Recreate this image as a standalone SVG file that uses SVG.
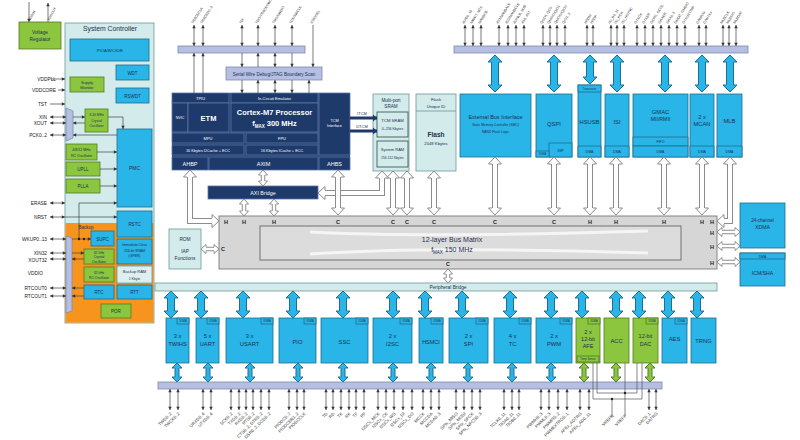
<svg xmlns="http://www.w3.org/2000/svg" width="800" height="440" viewBox="0 0 800 440">
<defs>
<style>
text{font-family:"Liberation Sans",Arial,sans-serif;fill:#1c2f50;text-anchor:middle}
.cy{fill:#29b5e8;stroke:#1f6f8f;stroke-width:0.8}
.gr{fill:#8cc63f;stroke:#4f7d22;stroke-width:0.8}
.lv{fill:#b4bfe2;stroke:#7f8ab0;stroke-width:0.8}
.lc{fill:#d3ebeb;stroke:#6b9898;stroke-width:0.8}
.nv{fill:#1d3a6b;stroke:#5a77a6;stroke-width:0.8}
.wt{fill:#fff}
.b{font-weight:bold}
.pl{font-size:3.5px;fill:#333;text-anchor:start}
.pb{font-size:4.3px;fill:#333;text-anchor:end}
.ll{font-size:4.8px;fill:#222;text-anchor:end}
.hc{font-size:5.5px;font-weight:bold;fill:#222}
.pin{fill:none;stroke:#555;stroke-width:0.8;marker-start:url(#pa);marker-end:url(#pa)}
.pe{fill:none;stroke:#444;stroke-width:0.7;marker-end:url(#pa)}
.ln{fill:none;stroke:#555;stroke-width:0.7}
.ho{fill:none;stroke:#8c8c8c;stroke-width:6;marker-start:url(#mh);marker-end:url(#mh)}
.hi{fill:none;stroke:#fff;stroke-width:4}
.so{fill:none;stroke:#8c8c8c;stroke-width:4.5;marker-start:url(#sh);marker-end:url(#sh)}
.si{fill:none;stroke:#fff;stroke-width:2.5}
.co{fill:none;stroke:#1f6f8f;stroke-width:8;marker-start:url(#ch);marker-end:url(#ch)}
.ci{fill:none;stroke:#29b5e8;stroke-width:6}
.cso{fill:none;stroke:#1f6f8f;stroke-width:5;marker-start:url(#csh);marker-end:url(#csh)}
.csi{fill:none;stroke:#29b5e8;stroke-width:3}
.gso{fill:none;stroke:#4f7d22;stroke-width:5;marker-start:url(#gsh);marker-end:url(#gsh)}
.gsi{fill:none;stroke:#8cc63f;stroke-width:3}
.nva{fill:none;stroke:#1d3a6b;stroke-width:3;marker-end:url(#nh)}
.tag{font-size:2.6px}
</style>
<marker id="pa" markerUnits="userSpaceOnUse" orient="auto-start-reverse" markerWidth="20" markerHeight="20" viewBox="-10 -10 20 20" refX="0" refY="0"><path d="M-3.2,-1.7 L0,0 L-3.2,1.7Z" fill="#333"/></marker>
<marker id="mh" markerUnits="userSpaceOnUse" orient="auto-start-reverse" markerWidth="20" markerHeight="20" viewBox="-10 -10 20 20" refX="0" refY="0"><path d="M0,-3 L0,-6.5 L7,0 L0,6.5 L0,3" fill="#fff" stroke="#8c8c8c" stroke-width="1"/></marker>
<marker id="sh" markerUnits="userSpaceOnUse" orient="auto-start-reverse" markerWidth="20" markerHeight="20" viewBox="-10 -10 20 20" refX="0" refY="0"><path d="M0,-2.25 L0,-4.5 L5,0 L0,4.5 L0,2.25" fill="#fff" stroke="#8c8c8c" stroke-width="1"/></marker>
<marker id="ch" markerUnits="userSpaceOnUse" orient="auto-start-reverse" markerWidth="20" markerHeight="20" viewBox="-10 -10 20 20" refX="0" refY="0"><path d="M0,-4 L0,-7 L7,0 L0,7 L0,4" fill="#29b5e8" stroke="#1f6f8f" stroke-width="1"/></marker>
<marker id="csh" markerUnits="userSpaceOnUse" orient="auto-start-reverse" markerWidth="20" markerHeight="20" viewBox="-10 -10 20 20" refX="0" refY="0"><path d="M0,-2.5 L0,-5 L5,0 L0,5 L0,2.5" fill="#29b5e8" stroke="#1f6f8f" stroke-width="1"/></marker>
<marker id="gsh" markerUnits="userSpaceOnUse" orient="auto-start-reverse" markerWidth="20" markerHeight="20" viewBox="-10 -10 20 20" refX="0" refY="0"><path d="M0,-2.5 L0,-5 L5,0 L0,5 L0,2.5" fill="#8cc63f" stroke="#4f7d22" stroke-width="1"/></marker>
<marker id="nh" markerUnits="userSpaceOnUse" orient="auto" markerWidth="20" markerHeight="20" viewBox="-10 -10 20 20" refX="0" refY="0"><path d="M-4,-3.5 L0,0 L-4,3.5Z" fill="#1d3a6b"/></marker>
</defs>
<rect width="800" height="440" fill="#fff"/>

<g id="top-labels">
<text class="pl" transform="translate(30,21) rotate(-60)">VDDIN</text>
<text class="pl" transform="translate(49,21) rotate(-60)">VDDOUT</text>
<text class="pl" transform="translate(193,24) rotate(-58)">TRACECLK</text>
<text class="pl" transform="translate(202,24) rotate(-58)">TRACED0..3</text>
<text class="pl" transform="translate(241,24) rotate(-58)">TDI</text>
<text class="pl" transform="translate(257,24) rotate(-58)">TDO/TRACESWO</text>
<text class="pl" transform="translate(274,24) rotate(-58)">TMS/SWDIO</text>
<text class="pl" transform="translate(291,24) rotate(-58)">TCK/SWCLK</text>
<text class="pl" transform="translate(312,24) rotate(-58)">JTAGSEL</text>
<text class="pl" transform="translate(464,24) rotate(-58)">A0/D0..15</text>
<text class="pl" transform="translate(472,24) rotate(-58)">NWAIT, NCS</text>
<text class="pl" transform="translate(480,24) rotate(-58)">NANDOE</text>
<text class="pl" transform="translate(498,24) rotate(-58)">A21/NANDALE</text>
<text class="pl" transform="translate(507,24) rotate(-58)">A22/NANDCLE</text>
<text class="pl" transform="translate(515,24) rotate(-58)">A0/NLB, NUB</text>
<text class="pl" transform="translate(523,24) rotate(-58)">A16..A17</text>
<text class="pl" transform="translate(542,24) rotate(-58)">QSCK, QCS</text>
<text class="pl" transform="translate(549,24) rotate(-58)">QMISO/QIO1</text>
<text class="pl" transform="translate(556,24) rotate(-58)">QMOSI/QIO0</text>
<text class="pl" transform="translate(564,24) rotate(-58)">QIO2..3</text>
<text class="pl" transform="translate(586,24) rotate(-58)">HSDM</text>
<text class="pl" transform="translate(592,24) rotate(-58)">HSDP</text>
<text class="pl" transform="translate(610,24) rotate(-58)">ISI_D0..11</text>
<text class="pl" transform="translate(616,24) rotate(-58)">ISI_PCK</text>
<text class="pl" transform="translate(623,24) rotate(-58)">ISI_HSYNC</text>
<text class="pl" transform="translate(636,24) rotate(-58)">GTXCK</text>
<text class="pl" transform="translate(644,24) rotate(-58)">GTXER</text>
<text class="pl" transform="translate(652,24) rotate(-58)">GCRS, GCOL</text>
<text class="pl" transform="translate(660,24) rotate(-58)">GRXER</text>
<text class="pl" transform="translate(668,24) rotate(-58)">GRX0..3</text>
<text class="pl" transform="translate(676,24) rotate(-58)">GMDC, GMDIO</text>
<text class="pl" transform="translate(684,24) rotate(-58)">GTSUCOMP</text>
<text class="pl" transform="translate(698,24) rotate(-58)">CANRXx</text>
<text class="pl" transform="translate(705,24) rotate(-58)">CANTXx</text>
<text class="pl" transform="translate(722,24) rotate(-58)">MLBCLK</text>
<text class="pl" transform="translate(728,24) rotate(-58)">MLBSIG</text>
<text class="pl" transform="translate(735,24) rotate(-58)">MLBDAT</text>
</g>

<g id="left-labels">
<text class="ll" x="56" y="81">VDDPLL</text>
<text class="ll" x="56" y="92">VDDCORE</text>
<text class="ll" x="47" y="106">TST</text>
<text class="ll" x="47" y="119">XIN</text>
<text class="ll" x="47" y="125">XOUT</text>
<text class="ll" x="47" y="137">PCK0..2</text>
<text class="ll" x="47" y="205">ERASE</text>
<text class="ll" x="47" y="219">NRST</text>
<text class="ll" x="47" y="241">WKUP0..13</text>
<text class="ll" x="47" y="255">XIN32</text>
<text class="ll" x="47" y="262">XOUT32</text>
<text class="ll" x="43" y="275">VDDIO</text>
<text class="ll" x="47" y="290">RTCOUT0</text>
<text class="ll" x="47" y="298">RTCOUT1</text>
</g>

<g id="bottom-labels">
<text class="pb" transform="translate(172,414) rotate(-45)">TWD0..2</text>
<text class="pb" transform="translate(180,414) rotate(-45)">TWCK0..2</text>
<text class="pb" transform="translate(205,414) rotate(-45)">URXD0..4</text>
<text class="pb" transform="translate(213,414) rotate(-45)">UTXD0..4</text>
<text class="pb" transform="translate(233,414) rotate(-45)">SCK0..2</text>
<text class="pb" transform="translate(241,414) rotate(-45)">TXD0..2</text>
<text class="pb" transform="translate(248,414) rotate(-45)">RXD0..2</text>
<text class="pb" transform="translate(255,414) rotate(-45)">RTS0..2</text>
<text class="pb" transform="translate(263,414) rotate(-45)">CTS0..2, DTR0..2</text>
<text class="pb" transform="translate(271,414) rotate(-45)">DSR0..2, DCD0..2</text>
<text class="pb" transform="translate(291,414) rotate(-45)">PIODC0..7</text>
<text class="pb" transform="translate(299,414) rotate(-45)">PIODCEN1..2</text>
<text class="pb" transform="translate(306,414) rotate(-45)">PIODCCLK</text>
<text class="pb" transform="translate(328,414) rotate(-45)">TD</text>
<text class="pb" transform="translate(335,414) rotate(-45)">RD</text>
<text class="pb" transform="translate(343,414) rotate(-45)">TK</text>
<text class="pb" transform="translate(351,414) rotate(-45)">RK</text>
<text class="pb" transform="translate(358,414) rotate(-45)">TF</text>
<text class="pb" transform="translate(366,414) rotate(-45)">RF</text>
<text class="pb" transform="translate(380,414) rotate(-45)">I2SCx_MCK</text>
<text class="pb" transform="translate(388,414) rotate(-45)">I2SCx_CK</text>
<text class="pb" transform="translate(396,414) rotate(-45)">I2SCx_WS</text>
<text class="pb" transform="translate(405,414) rotate(-45)">I2SCx_DI</text>
<text class="pb" transform="translate(414,414) rotate(-45)">I2SCx_DO</text>
<text class="pb" transform="translate(425,414) rotate(-45)">MCCK</text>
<text class="pb" transform="translate(433,414) rotate(-45)">MCCDA</text>
<text class="pb" transform="translate(441,414) rotate(-45)">MCDA0..3</text>
<text class="pb" transform="translate(458,414) rotate(-45)">SPIx_MISO</text>
<text class="pb" transform="translate(466,414) rotate(-45)">SPIx_MOSI</text>
<text class="pb" transform="translate(474,414) rotate(-45)">SPIx_SPCK</text>
<text class="pb" transform="translate(482,414) rotate(-45)">SPIx_NPCS0..3</text>
<text class="pb" transform="translate(506,414) rotate(-45)">TCLK0..11</text>
<text class="pb" transform="translate(514,414) rotate(-45)">TIOA0..11</text>
<text class="pb" transform="translate(521,414) rotate(-45)">TIOB0..11</text>
<text class="pb" transform="translate(543,414) rotate(-45)">PWMH0..3</text>
<text class="pb" transform="translate(551,414) rotate(-45)">PWML0..3</text>
<text class="pb" transform="translate(560,414) rotate(-45)">PWMFI0..2</text>
<text class="pb" transform="translate(569,414) rotate(-45)">PWMEXTRG0..1</text>
<text class="pb" transform="translate(582,414) rotate(-45)">AFEx_ADTRG</text>
<text class="pb" transform="translate(591,414) rotate(-45)">AFEx_AD0..11</text>
<text class="pb" transform="translate(614,416) rotate(-45)">VREFN</text>
<text class="pb" transform="translate(627,416) rotate(-45)">VREFP</text>
<text class="pb" transform="translate(651,414) rotate(-45)">DAC0..1</text>
<text class="pb" transform="translate(658,414) rotate(-45)">DATRG</text>
</g>

<g id="trace-bar"><rect class="lv" x="178" y="46" width="127" height="7"/></g>
<g id="top-bar"><rect class="lv" x="454" y="46" width="294" height="7"/></g>
<g id="bottom-bar"><rect class="lv" x="158" y="382" width="504" height="7"/></g>

<g id="voltage-regulator">
<rect class="gr" x="19" y="22" width="42" height="27"/>
<text x="40" y="34" font-size="4.8">Voltage</text>
<text x="40" y="41" font-size="4.8">Regulator</text>
</g>
<g id="system-controller">
<rect x="65" y="23" width="89" height="300" fill="#d3ebeb" stroke="#6b9898" stroke-width="0.8"/>
<rect x="65.4" y="223" width="88.2" height="99.6" fill="#f7941d"/>
<text x="110" y="31" font-size="6.8">System Controller</text>
<text x="86" y="229" font-size="4.5">Backup</text>
</g>
<g id="pio"><rect class="cy" x="70" y="39" width="79" height="22"/><text x="110" y="52" font-size="4.2">PIOA/B/C/D/E</text></g>
<g id="wdt"><rect class="cy" x="116" y="65" width="33" height="15"/><text x="132.5" y="74.5" font-size="4.5">WDT</text></g>
<g id="rswdt"><rect class="cy" x="116" y="88" width="33" height="15"/><text x="132.5" y="97.5" font-size="4.5">RSWDT</text></g>
<g id="supply-monitor"><rect class="gr" x="70" y="77" width="34" height="15"/><text x="87" y="83.5" font-size="4">Supply</text><text x="87" y="89" font-size="4">Monitor</text></g>
<g id="xtal-osc"><rect class="gr" x="85" y="109" width="23" height="23"/><text x="96.5" y="116" font-size="3.4">3-20 MHz</text><text x="96.5" y="121.5" font-size="3.4">Crystal</text><text x="96.5" y="127" font-size="3.4">Oscillator</text></g>
<g id="mux-top"><polygon points="66,108 73,111 73,138 66,141" fill="#b4bfe2" stroke="#7f8ab0" stroke-width="0.8"/></g>
<g id="pmc"><rect class="cy" x="117" y="129" width="35" height="78"/><text x="134.5" y="170" font-size="5">PMC</text></g>
<g id="rc-osc"><rect class="gr" x="66" y="144" width="31" height="16"/><text x="81.5" y="151" font-size="3.6">4/8/12 MHz</text><text x="81.5" y="156.5" font-size="3.6">RC Oscillator</text></g>
<g id="upll"><rect class="gr" x="66" y="162" width="34" height="14"/><text x="83" y="171" font-size="4.5">UPLL</text></g>
<g id="plla"><rect class="gr" x="66" y="179" width="34" height="14"/><text x="83" y="188" font-size="4.5">PLLA</text></g>
<g id="rstc"><rect class="cy" x="117" y="211" width="35" height="26"/><text x="134.5" y="226" font-size="4.5">RSTC</text></g>
<g id="supc"><rect class="cy" x="91" y="231" width="23" height="15"/><text x="102.5" y="240.5" font-size="4.5">SUPC</text></g>
<g id="gpbr"><rect class="cy" x="117" y="239" width="35" height="25"/><text x="134.5" y="246" font-size="3.4">Immediate Clear</text><text x="134.5" y="251.5" font-size="3.4">256-bit SRAM</text><text x="134.5" y="257" font-size="3.4">(GPBR)</text></g>
<g id="xtal32"><rect class="gr" x="84" y="249" width="30" height="15"/><text x="99" y="253.5" font-size="3.4">32 kHz</text><text x="99" y="258" font-size="3.4">Crystal</text><text x="99" y="262.5" font-size="3.4">Oscillator</text></g>
<g id="rc32"><rect class="gr" x="84" y="267" width="30" height="15"/><text x="99" y="273.5" font-size="3.4">32 kHz</text><text x="99" y="278.5" font-size="3.4">RC Oscillator</text></g>
<g id="backup-ram"><rect x="117" y="266" width="35" height="17" fill="#dfeeee" stroke="#6b9898" stroke-width="0.8"/><text x="134.5" y="273" font-size="4">Backup RAM</text><text x="134.5" y="279.5" font-size="3.4">1 Kbyte</text></g>
<g id="rtc"><rect class="cy" x="84" y="285" width="30" height="14"/><text x="99" y="293.5" font-size="4.5">RTC</text></g>
<g id="rtt"><rect class="cy" x="117" y="285" width="35" height="14"/><text x="134.5" y="293.5" font-size="4.5">RTT</text></g>
<g id="por"><rect class="gr" x="101" y="304" width="30" height="14"/><text x="116" y="312.5" font-size="4.5">POR</text></g>
<g id="mux-bottom"><polygon points="66,236 72,238 72,311 66,313" fill="#b4bfe2" stroke="#7f8ab0" stroke-width="0.8"/></g>

<g id="swd-jtag"><rect class="lv" x="226" y="67" width="96" height="13"/><text x="274" y="75.5" font-size="4.6">Serial Wire Debug/JTAG Boundary Scan</text></g>

<g id="cortex-m7">
<rect x="172" y="93" width="178" height="77" fill="#1d3a6b"/>
<rect class="nv" x="172" y="93" width="57" height="10"/><text class="wt" x="200.5" y="99.8" font-size="4">TPIU</text>
<rect class="nv" x="231" y="93" width="87" height="10"/><text class="wt" x="274.5" y="99.8" font-size="4">In-Circuit Emulator</text>
<rect class="nv" x="172" y="103" width="16" height="29"/><text class="wt" x="180" y="119" font-size="3.6">NVIC</text>
<rect class="nv" x="188" y="103" width="41" height="29"/><text class="wt b" x="208.5" y="120.5" font-size="7.5">ETM</text>
<rect class="nv" x="231" y="103" width="87" height="29"/><text class="wt b" x="274.5" y="115" font-size="7.5">Cortex-M7 Processor</text>
<text class="wt b" x="274.5" y="126" font-size="7.5">f<tspan font-size="4.5" dy="1.5">MAX</tspan><tspan dy="-1.5"> 300 MHz</tspan></text>
<rect class="nv" x="172" y="133" width="72" height="10"/><text class="wt" x="208" y="139.8" font-size="4">MPU</text>
<rect class="nv" x="246" y="133" width="72" height="10"/><text class="wt" x="282" y="139.8" font-size="4">FPU</text>
<rect class="nv" x="172" y="145" width="72" height="10"/><text class="wt" x="208" y="151.8" font-size="3.8">16 Kbytes  DCache  + ECC</text>
<rect class="nv" x="246" y="145" width="72" height="10"/><text class="wt" x="282" y="151.8" font-size="3.8">16 Kbytes  ICache  + ECC</text>
<rect class="nv" x="172" y="157" width="36" height="13"/><text class="wt" x="190" y="165.5" font-size="5.5">AHBP</text>
<rect class="nv" x="209" y="157" width="109" height="13"/><text class="wt" x="263.5" y="165.5" font-size="5.5">AXIM</text>
<rect class="nv" x="319" y="157" width="31" height="13"/><text class="wt" x="334.5" y="165.5" font-size="5.5">AHBS</text>
<rect class="nv" x="319" y="93" width="31" height="62"/><text class="wt" x="334.5" y="122" font-size="3.8">TCM</text><text class="wt" x="334.5" y="127" font-size="3.8">Interface</text>
</g>
<g id="axi-bridge"><rect class="nv" x="208" y="186" width="110" height="13"/><text class="wt" x="263" y="194.5" font-size="5.3">AXI Bridge</text></g>

<g id="multiport-sram">
<rect class="lc" x="373" y="94" width="36" height="77"/>
<text x="391" y="101.5" font-size="4.6">Multi-port</text><text x="391" y="108" font-size="4.6">SRAM</text>
<rect x="377" y="112" width="31" height="25" fill="#d3ebeb" stroke="#2e4a4a" stroke-width="0.8"/>
<text x="392.5" y="121.5" font-size="4.2">TCM SRAM</text><text x="392.5" y="130" font-size="3.5">0–256 Kbytes</text>
<rect x="377" y="141" width="31" height="26" fill="#d3ebeb" stroke="#2e4a4a" stroke-width="0.8"/>
<text x="392.5" y="150.5" font-size="4">System RAM</text><text x="392.5" y="159" font-size="3.2">256-512 Kbytes</text>
</g>
<g id="flash">
<rect class="lc" x="416" y="94" width="40" height="77"/>
<line x1="416" y1="111" x2="456" y2="111" stroke="#6b9898" stroke-width="0.8"/>
<text x="436" y="101" font-size="4.2">Flash</text><text x="436" y="107.5" font-size="4.2">Unique ID</text>
<text x="436" y="137" font-size="6.5" class="b">Flash</text><text x="436" y="145" font-size="4.2">2048 Kbytes</text>
</g>

<g id="ebi"><rect class="cy" x="460" y="94" width="71" height="63"/>
<text x="495.5" y="119" font-size="5.5">External Bus Interface</text>
<text x="495.5" y="126" font-size="3.3">Static Memory Controller (SMC)</text>
<text x="495.5" y="133" font-size="3.3">NAND Flash Logic</text></g>
<g id="qspi"><rect class="cy" x="536" y="94" width="36" height="63"/><text x="554" y="126" font-size="5.8">QSPI</text>
<rect class="cy" x="549" y="143" width="23" height="14"/><text x="560.5" y="151.5" font-size="4.2">XIP</text>
<rect class="cy" x="536" y="151" width="13" height="6"/><text class="tag" x="542.5" y="155">XDMA</text></g>
<g id="hsusb"><rect class="cy" x="578" y="85" width="23" height="72"/>
<rect class="cy" x="578" y="85" width="23" height="7"/><text x="589.5" y="89.8" font-size="2.6">Transceiver</text>
<text x="589.5" y="124" font-size="5.8">HSUSB</text>
<rect class="cy" x="578" y="146" width="23" height="11"/><text x="589.5" y="153.2" font-size="3.5">DMA</text></g>
<g id="isi"><rect class="cy" x="605" y="94" width="24" height="63"/><text x="617" y="124" font-size="5.8">ISI</text>
<rect class="cy" x="605" y="146" width="24" height="11"/><text x="617" y="153.2" font-size="3.5">DMA</text></g>
<g id="gmac"><rect class="cy" x="633" y="94" width="55" height="63"/><text x="660.5" y="114" font-size="5.8">GMAC</text><text x="660.5" y="121" font-size="5.2">MII/RMII</text>
<rect class="cy" x="633" y="137" width="55" height="9"/><text x="660.5" y="143.2" font-size="3.5">FIFO</text>
<rect class="cy" x="633" y="146" width="55" height="11"/><text x="660.5" y="153.2" font-size="3.5">DMA</text></g>
<g id="mcan"><rect class="cy" x="690" y="94" width="24" height="63"/><text x="702" y="119" font-size="5.8">2 x</text><text x="702" y="126" font-size="5.8">MCAN</text>
<rect class="cy" x="690" y="146" width="24" height="11"/><text x="702" y="153.2" font-size="3.5">DMA</text></g>
<g id="mlb"><rect class="cy" x="717" y="94" width="25" height="63"/><text x="729.5" y="123" font-size="5.8">MLB</text>
<rect class="cy" x="717" y="146" width="25" height="11"/><text x="729.5" y="153.2" font-size="3.5">DMA</text></g>

<g id="bus-matrix">
<rect x="219" y="216" width="498" height="53" fill="#d6d6d6" stroke="#7a7a7a" stroke-width="0.9"/>
<rect x="260" y="226" width="421" height="34" fill="#dcdcdc" stroke="#666" stroke-width="0.9"/>
<path d="M310,232 Q430,238 648,231" fill="none" stroke="#fff" stroke-opacity="0.7" stroke-width="3"/>
<path d="M310,254 Q430,246 648,253" fill="none" stroke="#fff" stroke-opacity="0.7" stroke-width="3"/>
<text x="452" y="242" font-size="7">12-layer Bus Matrix</text>
<text x="452" y="252" font-size="7">f<tspan font-size="4.5" dy="1.5">MAX</tspan><tspan dy="-1.5"> 150 MHz</tspan></text>
<text class="hc" x="226" y="223.5">H</text>
<text class="hc" x="244" y="223.5">H</text>
<text class="hc" x="274" y="223.5">H</text>
<text class="hc" x="338" y="223.5">C</text>
<text class="hc" x="393" y="223.5">C</text>
<text class="hc" x="407" y="223.5">C</text>
<text class="hc" x="434" y="223.5">C</text>
<text class="hc" x="495" y="223.5">C</text>
<text class="hc" x="554" y="223.5">C</text>
<text class="hc" x="590" y="223.5">H</text>
<text class="hc" x="616" y="223.5">H</text>
<text class="hc" x="664" y="223.5">H</text>
<text class="hc" x="702" y="223.5">H</text>
<text class="hc" x="712" y="223.5">H</text>
<text class="hc" x="712" y="234.5">H</text>
<text class="hc" x="712" y="248.5">H</text>
<text class="hc" x="712" y="264.5">H</text>
<text class="hc" x="223" y="251">C</text>
<text class="hc" x="448" y="266">C</text>
</g>
<g id="rom"><rect class="lc" x="169" y="229" width="32" height="40"/><text x="185" y="241" font-size="4.8">ROM</text><text x="185" y="253" font-size="4.8">IAP</text><text x="185" y="260" font-size="4.8">Functions</text></g>
<g id="xdma"><rect class="cy" x="740" y="203" width="45" height="45"/><text x="762.5" y="222" font-size="4.6">24-channel</text><text x="762.5" y="229" font-size="5.2">XDMA</text></g>
<g id="icm-sha"><rect class="cy" x="740" y="253" width="45" height="33"/><rect class="cy" x="740" y="253" width="45" height="6"/><text x="762.5" y="257.6" font-size="3.3">DMA</text><text x="762.5" y="275" font-size="5.2">ICM/SHA</text></g>
<g id="peripheral-bridge"><rect class="lc" x="155" y="283" width="562" height="8"/><text x="448" y="289.3" font-size="4.8">Peripheral Bridge</text></g>

<g id="twihs"><rect class="cy" x="166" y="318" width="23" height="45"/><rect class="cy" x="177" y="318" width="12" height="6"/><text class="tag" x="183" y="322">XDMA</text><text x="177.5" y="338" font-size="5.8">3 x</text><text x="177.5" y="346" font-size="5.8">TWIHS</text></g>
<g id="uart"><rect class="cy" x="196" y="318" width="23" height="45"/><rect class="cy" x="207" y="318" width="12" height="6"/><text class="tag" x="213" y="322">XDMA</text><text x="207.5" y="338" font-size="5.8">5 x</text><text x="207.5" y="346" font-size="5.8">UART</text></g>
<g id="usart"><rect class="cy" x="226" y="318" width="47" height="45"/><rect class="cy" x="261" y="318" width="12" height="6"/><text class="tag" x="267" y="322">XDMA</text><text x="249.5" y="338" font-size="5.8">3 x</text><text x="249.5" y="346" font-size="5.8">USART</text></g>
<g id="pio-ctrl"><rect class="cy" x="279" y="318" width="37" height="45"/><rect class="cy" x="304" y="318" width="12" height="6"/><text class="tag" x="310" y="322">XDMA</text><text x="297.5" y="344" font-size="5.8">PIO</text></g>
<g id="ssc"><rect class="cy" x="321" y="318" width="47" height="45"/><rect class="cy" x="356" y="318" width="12" height="6"/><text class="tag" x="362" y="322">XDMA</text><text x="344.5" y="344" font-size="5.8">SSC</text></g>
<g id="i2sc"><rect class="cy" x="373" y="318" width="39" height="45"/><rect class="cy" x="400" y="318" width="12" height="6"/><text class="tag" x="406" y="322">XDMA</text><text x="392.5" y="338" font-size="5.8">2 x</text><text x="392.5" y="346" font-size="5.8">I2SC</text></g>
<g id="hsmci"><rect class="cy" x="419" y="318" width="24" height="45"/><rect class="cy" x="431" y="318" width="12" height="6"/><text class="tag" x="437" y="322">XDMA</text><text x="431" y="344" font-size="5.5">HSMCI</text></g>
<g id="spi"><rect class="cy" x="449" y="318" width="39" height="45"/><rect class="cy" x="476" y="318" width="12" height="6"/><text class="tag" x="482" y="322">XDMA</text><text x="468.5" y="338" font-size="5.8">2 x</text><text x="468.5" y="346" font-size="5.8">SPI</text></g>
<g id="tc"><rect class="cy" x="494" y="318" width="37" height="45"/><rect class="cy" x="519" y="318" width="12" height="6"/><text class="tag" x="525" y="322">XDMA</text><text x="512.5" y="338" font-size="5.8">4 x</text><text x="512.5" y="346" font-size="5.8">TC</text></g>
<g id="pwm"><rect class="cy" x="536" y="318" width="36" height="45"/><rect class="cy" x="560" y="318" width="12" height="6"/><text class="tag" x="566" y="322">XDMA</text><text x="554" y="338" font-size="5.8">2 x</text><text x="554" y="346" font-size="5.8">PWM</text></g>
<g id="afe"><rect class="gr" x="576" y="318" width="24" height="45"/><rect class="gr" x="588" y="318" width="12" height="6"/><text class="tag" x="594" y="322">XDMA</text><text x="588" y="334" font-size="5.5">2 x</text><text x="588" y="341" font-size="5.5">12-bit</text><text x="588" y="348" font-size="5.5">AFE</text><rect class="gr" x="577" y="356" width="22" height="6"/><text x="588" y="360.3" font-size="2.6">Temp Sensor</text></g>
<g id="acc"><rect class="gr" x="604" y="318" width="25" height="45"/><text x="616.5" y="343" font-size="5.8">ACC</text></g>
<g id="dac"><rect class="gr" x="633" y="318" width="25" height="45"/><rect class="gr" x="646" y="318" width="12" height="6"/><text class="tag" x="652" y="322">XDMA</text><text x="645.5" y="338" font-size="5.5">12-bit</text><text x="645.5" y="346" font-size="5.5">DAC</text></g>
<g id="aes"><rect class="cy" x="662" y="318" width="25" height="45"/><rect class="cy" x="675" y="318" width="12" height="6"/><text class="tag" x="681" y="322">XDMA</text><text x="674.5" y="341" font-size="5.8">AES</text></g>
<g id="trng"><rect class="cy" x="691" y="318" width="25" height="45"/><text x="703.5" y="343" font-size="5.8">TRNG</text></g>

<g id="connectors">
<path class="pe" d="M29,2 V22"/>
<path class="pe" d="M48,22 V3"/>
<path class="pin" d="M194,25 V46"/><path class="pin" d="M203,25 V46"/>
<path class="pin" d="M242,25 V46"/><path class="pin" d="M258,25 V46"/><path class="pin" d="M275,25 V46"/><path class="pin" d="M292,25 V46"/>
<path class="pe" d="M313,25 V67"/>
<path class="pe" d="M194,93 V53"/><path class="pe" d="M203,93 V53"/>
<path class="pe" d="M242,53 V67"/><path class="pe" d="M242,80 V93"/>
<path class="pe" d="M258,67 V53"/><path class="pe" d="M258,93 V80"/>
<path class="pin" d="M275,53 V67"/><path class="pin" d="M275,80 V93"/>
<path class="pe" d="M292,53 V67"/><path class="pe" d="M292,80 V93"/>
<path class="pe" d="M309,93 V80"/>
<path class="pin" d="M465,25 V46"/><path class="pin" d="M473,25 V46"/><path class="pin" d="M481,25 V46"/>
<path class="pin" d="M499,25 V46"/><path class="pin" d="M508,25 V46"/><path class="pin" d="M516,25 V46"/><path class="pin" d="M524,25 V46"/>
<path class="pin" d="M543,25 V46"/><path class="pin" d="M550,25 V46"/><path class="pin" d="M557,25 V46"/><path class="pin" d="M565,25 V46"/>
<path class="pin" d="M587,25 V46"/><path class="pin" d="M593,25 V46"/>
<path class="pin" d="M611,25 V46"/><path class="pin" d="M617,25 V46"/><path class="pin" d="M624,25 V46"/>
<path class="pin" d="M637,25 V46"/><path class="pin" d="M645,25 V46"/><path class="pin" d="M653,25 V46"/><path class="pin" d="M661,25 V46"/><path class="pin" d="M669,25 V46"/><path class="pin" d="M677,25 V46"/><path class="pin" d="M685,25 V46"/>
<path class="pin" d="M699,25 V46"/><path class="pin" d="M706,25 V46"/>
<path class="pin" d="M723,25 V46"/><path class="pin" d="M729,25 V46"/><path class="pin" d="M736,25 V46"/>
<path class="pe" d="M51,79 H65"/><path class="pe" d="M58,90 H65"/><path class="pe" d="M50,104 H65"/>
<path class="pin" d="M50,117 H66"/><path class="pin" d="M50,123 H66"/><path class="pin" d="M50,135 H66"/>
<path class="pin" d="M50,203 H65"/><path class="pin" d="M50,217 H65"/><path class="pin" d="M50,239 H66"/>
<path class="pin" d="M50,253 H66"/><path class="pin" d="M50,259 H66"/><path class="pin" d="M50,288 H66"/><path class="pin" d="M50,296 H66"/>
<path class="pe" d="M73,117 H85"/>
<path class="pe" d="M85,123 H73"/>
<path class="pe" d="M108,117 H123 V129"/>
<path class="pe" d="M117,135 H73"/>
<path class="pe" d="M97,152 H117"/>
<path class="pe" d="M100,169 H117"/>
<path class="pe" d="M100,186 H117"/>
<path class="pe" d="M79,239 V203 H117"/>
<path class="pe" d="M65,217 H117"/>
<path class="pe" d="M72,239 H91"/>
<path class="pe" d="M72,253 H84"/>
<path class="pe" d="M84,259 H72"/>
<path class="pe" d="M84,288 H72"/>
<path class="pe" d="M84,296 H72"/>
<circle cx="79" cy="239" r="1.2" fill="#222"/><circle cx="84" cy="239" r="1.2" fill="#222"/>
<path class="nva" d="M350,118 H377"/><path class="nva" d="M350,131 H377"/>
<text x="362" y="115" font-size="4">ITCM</text><text x="362" y="128" font-size="4">DTCM</text>
<path class="co" d="M495,62 V85"/><path class="ci" d="M495,62 V85"/>
<path class="co" d="M554,62 V85"/><path class="ci" d="M554,62 V85"/>
<path class="co" d="M590,62 V77"/><path class="ci" d="M590,62 V77"/>
<path class="co" d="M617,62 V85"/><path class="ci" d="M617,62 V85"/>
<path class="co" d="M665,62 V85"/><path class="ci" d="M665,62 V85"/>
<path class="co" d="M702,62 V85"/><path class="ci" d="M702,62 V85"/>
<path class="co" d="M730,62 V85"/><path class="ci" d="M730,62 V85"/>
<path class="ho" d="M495,164 V208"/><path class="hi" d="M495,164 V208"/>
<path class="ho" d="M554,164 V208"/><path class="hi" d="M554,164 V208"/>
<path class="ho" d="M590,164 V208"/><path class="hi" d="M590,164 V208"/>
<path class="ho" d="M616,164 V208"/><path class="hi" d="M616,164 V208"/>
<path class="ho" d="M664,164 V208"/><path class="hi" d="M664,164 V208"/>
<path class="ho" d="M702,164 V208"/><path class="hi" d="M702,164 V208"/>
<path class="ho" d="M730,164 V221 H724"/><path class="hi" d="M730,164 V221 H724"/>
<path class="ho" d="M393,178 V208"/><path class="hi" d="M393,178 V208"/>
<path class="ho" d="M407,178 V208"/><path class="hi" d="M407,178 V208"/>
<path class="ho" d="M434,178 V208"/><path class="hi" d="M434,178 V208"/>
<path class="ho" d="M382,178 V193 H325"/><path class="hi" d="M382,178 V193 H325"/>
<path class="ho" d="M338,177 V208"/><path class="hi" d="M338,177 V208"/>
<path class="ho" d="M190,177 V221 H212"/><path class="hi" d="M190,177 V221 H212"/>
<path class="so" d="M263,175 V181"/><path class="si" d="M263,175 V181"/>
<path class="so" d="M244,204 V211"/><path class="si" d="M244,204 V211"/>
<path class="so" d="M274,204 V211"/><path class="si" d="M274,204 V211"/>
<path class="so" d="M206,249 H214"/><path class="si" d="M206,249 H214"/>
<path class="so" d="M722,232 H735"/><path class="si" d="M722,232 H735"/>
<path class="so" d="M722,246 H735"/><path class="si" d="M722,246 H735"/>
<path class="so" d="M722,262 H735"/><path class="si" d="M722,262 H735"/>
<path class="so" d="M448,274 V278"/><path class="si" d="M448,274 V278"/>
<path class="co" d="M171,298 V311"/><path class="ci" d="M171,298 V311"/>
<path class="co" d="M201,298 V311"/><path class="ci" d="M201,298 V311"/>
<path class="co" d="M243,298 V311"/><path class="ci" d="M243,298 V311"/>
<path class="co" d="M293,298 V311"/><path class="ci" d="M293,298 V311"/>
<path class="co" d="M343,298 V311"/><path class="ci" d="M343,298 V311"/>
<path class="co" d="M393,298 V311"/><path class="ci" d="M393,298 V311"/>
<path class="co" d="M425,298 V311"/><path class="ci" d="M425,298 V311"/>
<path class="co" d="M462,298 V311"/><path class="ci" d="M462,298 V311"/>
<path class="co" d="M510,298 V311"/><path class="ci" d="M510,298 V311"/>
<path class="co" d="M551,298 V311"/><path class="ci" d="M551,298 V311"/>
<path class="co" d="M582,298 V311"/><path class="ci" d="M582,298 V311"/>
<path class="co" d="M616,298 V311"/><path class="ci" d="M616,298 V311"/>
<path class="co" d="M639,298 V311"/><path class="ci" d="M639,298 V311"/>
<path class="co" d="M668,298 V311"/><path class="ci" d="M668,298 V311"/>
<path class="co" d="M697,298 V311"/><path class="ci" d="M697,298 V311"/>
<path class="cso" d="M177,368 V377"/><path class="csi" d="M177,368 V377"/>
<path class="cso" d="M208,368 V377"/><path class="csi" d="M208,368 V377"/>
<path class="cso" d="M250,368 V377"/><path class="csi" d="M250,368 V377"/>
<path class="cso" d="M298,368 V377"/><path class="csi" d="M298,368 V377"/>
<path class="cso" d="M343,368 V377"/><path class="csi" d="M343,368 V377"/>
<path class="cso" d="M393,368 V377"/><path class="csi" d="M393,368 V377"/>
<path class="cso" d="M431,368 V377"/><path class="csi" d="M431,368 V377"/>
<path class="cso" d="M468,368 V377"/><path class="csi" d="M468,368 V377"/>
<path class="cso" d="M512,368 V377"/><path class="csi" d="M512,368 V377"/>
<path class="cso" d="M551,368 V377"/><path class="csi" d="M551,368 V377"/>
<path class="gso" d="M584,368 V377"/><path class="gsi" d="M584,368 V377"/>
<path class="gso" d="M616,368 V377"/><path class="gsi" d="M616,368 V377"/>
<path class="gso" d="M650,368 V377"/><path class="gsi" d="M650,368 V377"/>
<path class="ln" d="M593,363 V399 H642 V363"/>
<path class="ln" d="M597,363 V393 H637 V363"/>
<path class="ln" d="M625,363 V416"/>
<path class="ln" d="M612,399 V416"/>
<circle cx="625" cy="393" r="1.2" fill="#222"/><circle cx="612" cy="399" r="1.2" fill="#222"/>
<path class="pin" d="M170,389 V410"/><path class="pin" d="M178,389 V410"/>
<path class="pin" d="M203,389 V410"/><path class="pin" d="M211,389 V410"/>
<path class="pin" d="M231,389 V410"/><path class="pin" d="M239,389 V410"/><path class="pin" d="M246,389 V410"/><path class="pin" d="M253,389 V410"/><path class="pin" d="M261,389 V410"/><path class="pin" d="M269,389 V410"/>
<path class="pin" d="M289,389 V410"/><path class="pin" d="M297,389 V410"/><path class="pin" d="M304,389 V410"/>
<path class="pin" d="M326,389 V410"/><path class="pin" d="M333,389 V410"/><path class="pin" d="M341,389 V410"/><path class="pin" d="M349,389 V410"/><path class="pin" d="M356,389 V410"/><path class="pin" d="M364,389 V410"/>
<path class="pin" d="M378,389 V410"/><path class="pin" d="M386,389 V410"/><path class="pin" d="M394,389 V410"/><path class="pin" d="M403,389 V410"/><path class="pin" d="M412,389 V410"/>
<path class="pin" d="M423,389 V410"/><path class="pin" d="M431,389 V410"/><path class="pin" d="M439,389 V410"/>
<path class="pin" d="M456,389 V410"/><path class="pin" d="M464,389 V410"/><path class="pin" d="M472,389 V410"/><path class="pin" d="M480,389 V410"/>
<path class="pin" d="M504,389 V410"/><path class="pin" d="M512,389 V410"/><path class="pin" d="M519,389 V410"/>
<path class="pin" d="M541,389 V410"/><path class="pin" d="M549,389 V410"/><path class="pin" d="M558,389 V410"/><path class="pin" d="M567,389 V410"/>
<path class="pin" d="M580,389 V410"/><path class="pin" d="M589,389 V410"/>
<path class="pin" d="M649,389 V410"/><path class="pin" d="M656,389 V410"/>
</g>
</svg>
